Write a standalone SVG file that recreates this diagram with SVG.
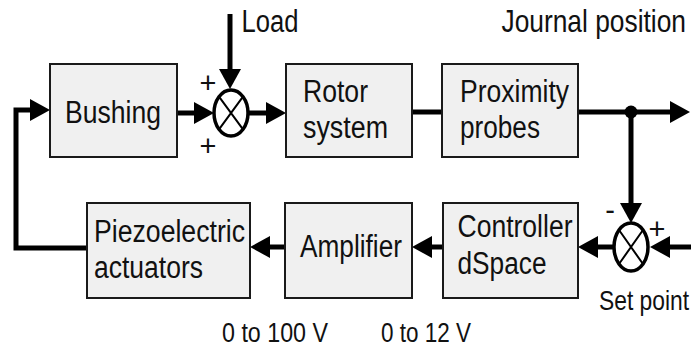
<svg xmlns="http://www.w3.org/2000/svg" width="691" height="347" viewBox="0 0 691 347">
<style>
.box{fill:#f0f0f0;stroke:#1a1a1a;stroke-width:2}
.t{font-family:"Liberation Sans",Arial,sans-serif;font-size:31px;fill:#111}
.l{font-family:"Liberation Sans",Arial,sans-serif;font-size:27px;fill:#111}
.s{font-family:"Liberation Sans",Arial,sans-serif;font-size:29px;fill:#111;text-anchor:middle}
.w{fill:none;stroke:#000;stroke-width:5}
.sum{fill:#fff;stroke:#000;stroke-width:3.5}
.x{stroke:#000;stroke-width:2}
</style>
<defs>
<marker id="ah" viewBox="0 0 20 22" refX="5" refY="11" markerWidth="20" markerHeight="22" markerUnits="userSpaceOnUse" orient="auto">
<path d="M0,0 L20,11 L0,22 z" fill="#000"/>
</marker>
</defs>
<rect width="691" height="347" fill="#fff"/>
<g id="connectors">
<path class="w" d="M87,248 H16 V110 H35" marker-end="url(#ah)"/>
<path class="w" d="M177,113 H199" marker-end="url(#ah)"/>
<path class="w" d="M230,14 V74" marker-end="url(#ah)"/>
<path class="w" d="M248,113 H271" marker-end="url(#ah)"/>
<path class="w" d="M412,112 H442"/>
<path class="w" d="M578,112 H675" marker-end="url(#ah)"/>
<path class="w" d="M631,112 V208" marker-end="url(#ah)"/>
<circle cx="631" cy="112" r="6.5" fill="#000"/>
<path class="w" d="M691,247 H665" marker-end="url(#ah)"/>
<path class="w" d="M614,247 H593" marker-end="url(#ah)"/>
<path class="w" d="M443,247 H427" marker-end="url(#ah)"/>
<path class="w" d="M285,247 H265" marker-end="url(#ah)"/>
</g>
<g id="sum1">
<ellipse class="sum" cx="231" cy="113" rx="17" ry="23"/>
<path class="x" d="M219,96.7 L243,129.3 M243,96.7 L219,129.3"/>
<text class="s" x="208" y="93">+</text>
<text class="s" x="208" y="156">+</text>
</g>
<g id="sum2">
<ellipse class="sum" cx="631" cy="247" rx="17" ry="24"/>
<path class="x" d="M619,230 L643,264 M643,230 L619,264"/>
<text class="s" x="610" y="220">-</text>
<text class="s" x="657" y="239">+</text>
</g>
<g id="bushing">
<rect class="box" x="50" y="64" width="127" height="93"/>
<text class="t" x="65" y="123" textLength="96" lengthAdjust="spacingAndGlyphs">Bushing</text>
</g>
<g id="rotor">
<rect class="box" x="286" y="64" width="126" height="93"/>
<text class="t" x="303" y="102" textLength="65" lengthAdjust="spacingAndGlyphs">Rotor</text>
<text class="t" x="303" y="138" textLength="85" lengthAdjust="spacingAndGlyphs">system</text>
</g>
<g id="proximity">
<rect class="box" x="442" y="64" width="136" height="93"/>
<text class="t" x="460" y="102" textLength="109" lengthAdjust="spacingAndGlyphs">Proximity</text>
<text class="t" x="460" y="138" textLength="80" lengthAdjust="spacingAndGlyphs">probes</text>
</g>
<g id="piezo">
<rect class="box" x="87" y="203" width="163" height="95"/>
<text class="t" x="94" y="242" textLength="151" lengthAdjust="spacingAndGlyphs">Piezoelectric</text>
<text class="t" x="94" y="278" textLength="109" lengthAdjust="spacingAndGlyphs">actuators</text>
</g>
<g id="amplifier">
<rect class="box" x="285" y="203" width="127" height="95"/>
<text class="t" x="300" y="257" textLength="102" lengthAdjust="spacingAndGlyphs">Amplifier</text>
</g>
<g id="controller">
<rect class="box" x="443" y="203" width="135" height="95"/>
<text class="t" x="457.5" y="237" textLength="115" lengthAdjust="spacingAndGlyphs">Controller</text>
<text class="t" x="457.5" y="274" textLength="89" lengthAdjust="spacingAndGlyphs">dSpace</text>
</g>
<g id="labels">
<text class="t" x="241.5" y="32" textLength="57" lengthAdjust="spacingAndGlyphs">Load</text>
<text class="t" transform="translate(501.5,32) scale(0.85,1)" x="0" y="0">Journal position</text>
<text class="l" transform="translate(599,310) scale(0.845,1)" x="0" y="0">Set point</text>
<text class="l" x="222" y="342" textLength="106" lengthAdjust="spacingAndGlyphs">0 to 100 V</text>
<text class="l" x="381" y="342" textLength="90" lengthAdjust="spacingAndGlyphs">0 to 12 V</text>
</g>
</svg>
